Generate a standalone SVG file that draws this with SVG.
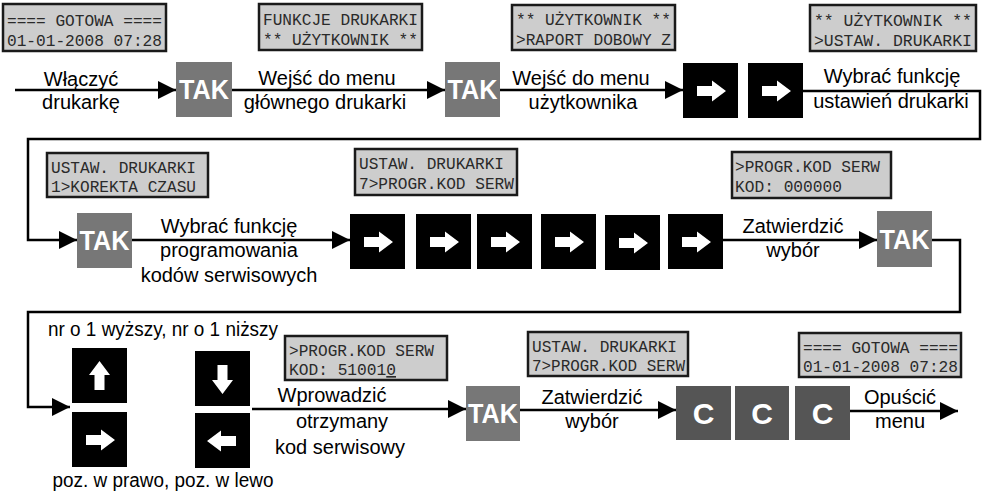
<svg xmlns="http://www.w3.org/2000/svg" width="984" height="498" viewBox="0 0 984 498">
<style>
.lcd rect{fill:#cdcdcd;stroke:#1a1a1a;stroke-width:2.5}
.lcd text{font-family:"Liberation Mono","DejaVu Sans Mono",monospace;font-size:16.5px;fill:#2a2a2a}
.tak rect{fill:#777777}
.tak text{font-family:"Liberation Sans",Arial,sans-serif;font-weight:bold;font-size:27px;fill:#ffffff;text-anchor:middle}
.ckey rect{fill:#555555}
.ckey text{font-family:"Liberation Sans",Arial,sans-serif;font-weight:bold;font-size:30px;fill:#ffffff;text-anchor:middle}
.bkey rect{fill:#000000}
.bkey use{fill:#ffffff}
.lbl{font-family:"Liberation Sans",Arial,sans-serif;font-size:20px;fill:#000000;text-anchor:middle}
.conn path{fill:none;stroke:#000000;stroke-width:2.5}
</style>
<defs>
<marker id="ah" markerUnits="userSpaceOnUse" markerWidth="19" markerHeight="19" refX="18" refY="9" orient="auto" overflow="visible">
<path d="M0,0 L18,9 L0,18 Z" fill="#000"/>
</marker>
<path id="ar" d="M-14,-5 H1 V-10.5 L15,0 L1,10.5 V5 H-14 Z"/>
</defs>

<g id="connectors" class="conn">
<path d="M15,90 H176" marker-end="url(#ah)"/>
<path d="M232,90 H445" marker-end="url(#ah)"/>
<path d="M500,90 H683" marker-end="url(#ah)"/>
<path d="M803,91 H980 V139 H28 V240 H77" marker-end="url(#ah)"/>
<path d="M132,240 H350" marker-end="url(#ah)"/>
<path d="M723,240 H877" marker-end="url(#ah)"/>
<path d="M932,240 H960 V312 H28 V407 H70" marker-end="url(#ah)"/>
<path d="M252,409 H466" marker-end="url(#ah)"/>
<path d="M520,410 H676" marker-end="url(#ah)"/>
<path d="M850,411 H958" marker-end="url(#ah)"/>
</g>

<!-- LCD displays -->
<g id="lcd1" class="lcd"><rect x="3" y="4" width="163" height="47"/>
<text x="7" y="26" textLength="155" lengthAdjust="spacingAndGlyphs">==== GOTOWA ====</text>
<text x="7" y="46" textLength="155" lengthAdjust="spacingAndGlyphs">01-01-2008 07:28</text></g>
<g id="lcd2" class="lcd"><rect x="259" y="4" width="163" height="46"/>
<text x="263" y="25" textLength="155" lengthAdjust="spacingAndGlyphs">FUNKCJE DRUKARKI</text>
<text x="263" y="45" textLength="155" lengthAdjust="spacingAndGlyphs">** UŻYTKOWNIK **</text></g>
<g id="lcd3" class="lcd"><rect x="512" y="5" width="163" height="45"/>
<text x="516" y="25" textLength="155" lengthAdjust="spacingAndGlyphs">** UŻYTKOWNIK **</text>
<text x="516" y="45" textLength="155" lengthAdjust="spacingAndGlyphs">&gt;RAPORT DOBOWY Z</text></g>
<g id="lcd4" class="lcd"><rect x="810" y="5" width="166" height="46"/>
<text x="814" y="26" textLength="158" lengthAdjust="spacingAndGlyphs">** UŻYTKOWNIK **</text>
<text x="814" y="46" textLength="158" lengthAdjust="spacingAndGlyphs">&gt;USTAW. DRUKARKI</text></g>
<g id="lcd5" class="lcd"><rect x="47" y="153" width="161" height="44"/>
<text x="51" y="173" textLength="145" lengthAdjust="spacingAndGlyphs">USTAW. DRUKARKI</text>
<text x="51" y="192" textLength="145" lengthAdjust="spacingAndGlyphs">1&gt;KOREKTA CZASU</text></g>
<g id="lcd6" class="lcd"><rect x="355" y="149" width="162" height="46"/>
<text x="359" y="169" textLength="145" lengthAdjust="spacingAndGlyphs">USTAW. DRUKARKI</text>
<text x="359" y="189" textLength="155" lengthAdjust="spacingAndGlyphs">7&gt;PROGR.KOD SERW</text></g>
<g id="lcd7" class="lcd"><rect x="732" y="152" width="159" height="46"/>
<text x="735" y="172" textLength="145" lengthAdjust="spacingAndGlyphs">&gt;PROGR.KOD SERW</text>
<text x="735" y="192" textLength="107" lengthAdjust="spacingAndGlyphs">KOD: 000000</text></g>
<g id="lcd8" class="lcd"><rect x="285" y="336" width="162" height="44"/>
<text x="289" y="356" textLength="145" lengthAdjust="spacingAndGlyphs">&gt;PROGR.KOD SERW</text>
<text x="289" y="375" textLength="107" lengthAdjust="spacingAndGlyphs">KOD: 51001<tspan text-decoration="underline">0</tspan></text></g>
<g id="lcd9" class="lcd"><rect x="528" y="332" width="160" height="44"/>
<text x="532" y="352" textLength="145" lengthAdjust="spacingAndGlyphs">USTAW. DRUKARKI</text>
<text x="532" y="371" textLength="153" lengthAdjust="spacingAndGlyphs">7&gt;PROGR.KOD SERW</text></g>
<g id="lcd10" class="lcd"><rect x="799" y="333" width="162" height="44"/>
<text x="803" y="353" textLength="155" lengthAdjust="spacingAndGlyphs">==== GOTOWA ====</text>
<text x="803" y="372" textLength="155" lengthAdjust="spacingAndGlyphs">01-01-2008 07:28</text></g>

<!-- TAK keys -->
<g id="tak1" class="tak"><rect x="176" y="62" width="56" height="55"/><text x="204" y="99" textLength="50" lengthAdjust="spacingAndGlyphs">TAK</text></g>
<g id="tak2" class="tak"><rect x="445" y="62" width="55" height="55"/><text x="472.5" y="99" textLength="50" lengthAdjust="spacingAndGlyphs">TAK</text></g>
<g id="tak3" class="tak"><rect x="77" y="213" width="55" height="55"/><text x="104.5" y="250" textLength="50" lengthAdjust="spacingAndGlyphs">TAK</text></g>
<g id="tak4" class="tak"><rect x="877" y="211" width="55" height="56"/><text x="904.5" y="249" textLength="50" lengthAdjust="spacingAndGlyphs">TAK</text></g>
<g id="tak5" class="tak"><rect x="466" y="386" width="54" height="55"/><text x="493" y="423" textLength="50" lengthAdjust="spacingAndGlyphs">TAK</text></g>

<!-- arrow keys row 1 -->
<g id="right1" class="bkey"><rect x="683" y="63" width="55" height="55"/><use href="#ar" transform="translate(711,91)"/></g>
<g id="right2" class="bkey"><rect x="748" y="63" width="55" height="55"/><use href="#ar" transform="translate(776,91)"/></g>
<!-- arrow keys row 2 -->
<g id="right3" class="bkey"><rect x="350" y="214" width="55" height="55"/><use href="#ar" transform="translate(378,242)"/></g>
<g id="right4" class="bkey"><rect x="416" y="214" width="55" height="55"/><use href="#ar" transform="translate(444,242)"/></g>
<g id="right5" class="bkey"><rect x="477" y="214" width="55" height="55"/><use href="#ar" transform="translate(505,242)"/></g>
<g id="right6" class="bkey"><rect x="541" y="214" width="55" height="55"/><use href="#ar" transform="translate(569,242)"/></g>
<g id="right7" class="bkey"><rect x="605" y="215" width="55" height="55"/><use href="#ar" transform="translate(633,243)"/></g>
<g id="right8" class="bkey"><rect x="668" y="214" width="55" height="55"/><use href="#ar" transform="translate(696,242)"/></g>
<!-- arrow keys row 3 -->
<g id="key-up" class="bkey"><rect x="72" y="348" width="55" height="55"/><use href="#ar" transform="translate(99.5,376) rotate(-90)"/></g>
<g id="key-right" class="bkey"><rect x="72" y="412" width="55" height="55"/><use href="#ar" transform="translate(100,440)"/></g>
<g id="key-down" class="bkey"><rect x="195" y="351" width="55" height="55"/><use href="#ar" transform="translate(222.5,379) rotate(90)"/></g>
<g id="key-left" class="bkey"><rect x="195" y="413" width="55" height="55"/><use href="#ar" transform="translate(222,441) rotate(180)"/></g>

<!-- C keys -->
<g id="c1" class="ckey"><rect x="676" y="386" width="55" height="54"/><text x="703.5" y="424">C</text></g>
<g id="c2" class="ckey"><rect x="735" y="386" width="54" height="54"/><text x="762" y="424">C</text></g>
<g id="c3" class="ckey"><rect x="795" y="386" width="55" height="54"/><text x="822.5" y="424">C</text></g>

<!-- labels -->
<g id="labels">
<text class="lbl" x="81" y="86">Włączyć</text>
<text class="lbl" x="81" y="109">drukarkę</text>
<text class="lbl" x="327" y="85">Wejść do menu</text>
<text class="lbl" x="325" y="109">głównego drukarki</text>
<text class="lbl" x="581" y="85">Wejść do menu</text>
<text class="lbl" x="583" y="109">użytkownika</text>
<text class="lbl" x="892" y="83">Wybrać funkcję</text>
<text class="lbl" x="891" y="108">ustawień drukarki</text>
<text class="lbl" x="229" y="233">Wybrać funkcję</text>
<text class="lbl" x="229" y="257">programowania</text>
<text class="lbl" x="229" y="282">kodów serwisowych</text>
<text class="lbl" x="793" y="233">Zatwierdzić</text>
<text class="lbl" x="793" y="257">wybór</text>
<text class="lbl" x="163" y="336" textLength="230" lengthAdjust="spacingAndGlyphs">nr o 1 wyższy, nr o 1 niższy</text>
<text class="lbl" x="163" y="487" textLength="221" lengthAdjust="spacingAndGlyphs">poz. w prawo, poz. w lewo</text>
<text class="lbl" x="332" y="402">Wprowadzić</text>
<text class="lbl" x="342" y="428">otrzymany</text>
<text class="lbl" x="340" y="454">kod serwisowy</text>
<text class="lbl" x="592" y="404">Zatwierdzić</text>
<text class="lbl" x="592" y="428">wybór</text>
<text class="lbl" x="900" y="404">Opuścić</text>
<text class="lbl" x="900" y="428">menu</text>
</g>
</svg>
